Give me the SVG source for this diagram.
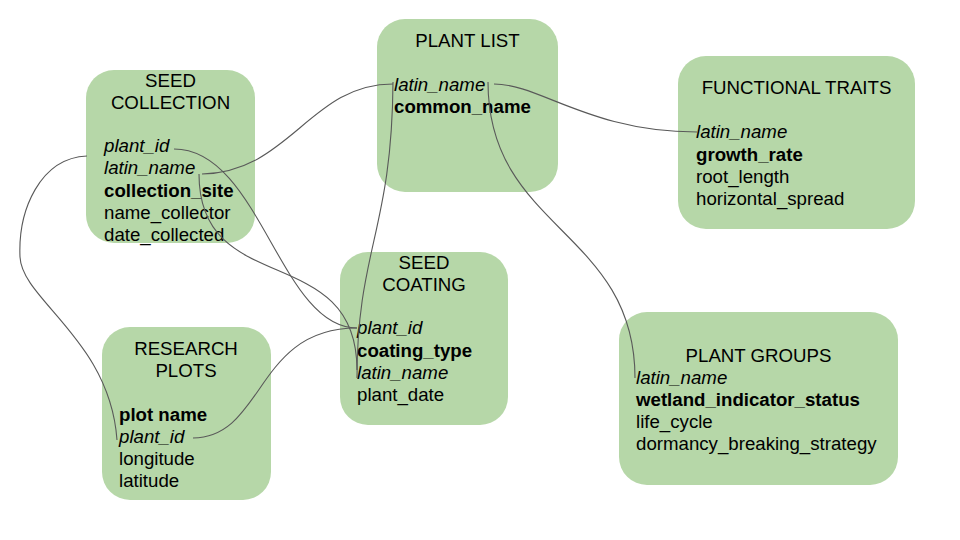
<svg xmlns="http://www.w3.org/2000/svg" width="960" height="540" viewBox="0 0 960 540">
<style>
.box{fill:#b6d7a8;stroke:none}
text{font-family:"Liberation Sans",Arial,sans-serif;font-size:18.67px;fill:#000}
.t{text-anchor:middle}
.i{font-style:italic}
.b{font-weight:bold}
.c{fill:none;stroke:#595959;stroke-width:1.1}
</style>
<rect width="960" height="540" fill="#fff"/>
<g id="seed-collection">
<rect class="box" x="86" y="70" width="169" height="173" rx="28"/>
<text class="t" x="170.5" y="87">SEED</text>
<text class="t" x="170.5" y="109">COLLECTION</text>
<text class="i" x="104" y="152">plant_id</text>
<text class="i" x="104" y="174">latin_name</text>
<text class="b" x="104" y="197">collection_site</text>
<text x="104" y="219">name_collector</text>
<text x="104" y="241">date_collected</text>
</g>
<g id="plant-list">
<rect class="box" x="377" y="19" width="181" height="173" rx="28"/>
<text class="t" x="467.5" y="47">PLANT LIST</text>
<text class="i" x="394" y="91">latin_name</text>
<text class="b" x="394" y="113">common_name</text>
</g>
<g id="functional-traits">
<rect class="box" x="678" y="56" width="237" height="173" rx="28"/>
<text class="t" x="796.5" y="94">FUNCTIONAL TRAITS</text>
<text class="i" x="696" y="138">latin_name</text>
<text class="b" x="696" y="161">growth_rate</text>
<text x="696" y="183">root_length</text>
<text x="696" y="205">horizontal_spread</text>
</g>
<g id="seed-coating">
<rect class="box" x="340" y="252" width="168" height="173" rx="28"/>
<text class="t" x="424" y="269">SEED</text>
<text class="t" x="424" y="291">COATING</text>
<text class="i" x="357" y="334">plant_id</text>
<text class="b" x="357" y="357">coating_type</text>
<text class="i" x="357" y="379">latin_name</text>
<text x="357" y="401">plant_date</text>
</g>
<g id="research-plots">
<rect class="box" x="102" y="327" width="169" height="173" rx="28"/>
<text class="t" x="186" y="355">RESEARCH</text>
<text class="t" x="186" y="377">PLOTS</text>
<text class="b" x="119" y="421">plot name</text>
<text class="i" x="119" y="443">plant_id</text>
<text x="119" y="465">longitude</text>
<text x="119" y="487">latitude</text>
</g>
<g id="plant-groups">
<rect class="box" x="619" y="312" width="279" height="173" rx="28"/>
<text class="t" x="758.5" y="362">PLANT GROUPS</text>
<text class="i" x="636" y="384">latin_name</text>
<text class="b" x="636" y="406">wetland_indicator_status</text>
<text x="636" y="428">life_cycle</text>
<text x="636" y="450">dormancy_breaking_strategy</text>
</g>
<g id="connectors">
<path class="c" d="M202,174 C290,172 310,84 393,84"/>
<path class="c" d="M393,82 C392,230 357,250 357,378"/>
<path class="c" d="M494,84 C540,84 590,132 697,132"/>
<path class="c" d="M488,82 C488,230 635,230 635,378"/>
<path class="c" d="M174,149 C260,149 280,328 357,328"/>
<path class="c" d="M199,174 C199,300 357,240 357,370"/>
<path class="c" d="M193,438 C265,437 255,328 357,328"/>
<path class="c" d="M87,156 C40,158 18,210 20,257 C22,300 110,340 117,440"/>
</g>
</svg>
